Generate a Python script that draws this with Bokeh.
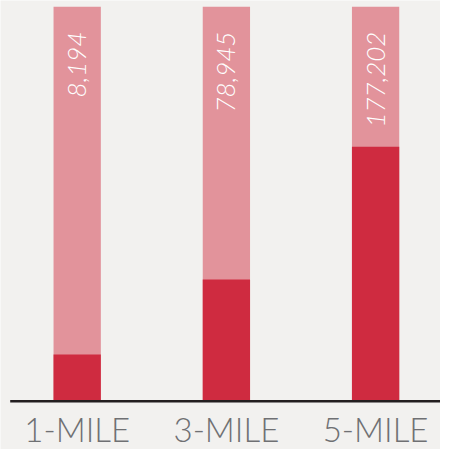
import numpy as np
from bokeh.plotting import figure
from bokeh.models import Range1d, ColumnDataSource
from bokeh.core.properties import value
from bokeh.embed import file_html
from bokeh.resources import INLINE

# ---- data ----
categories = ["1-MILE", "3-MILE", "5-MILE"]
population = [8194, 78945, 177202]
share_pct = [11.6, 30.7, 64.4]      # dark red portion (% of bar height)
full_pct = [100, 100, 100]          # pale background bar

BG = "#f2f1ef"
DARK = "#cf2b40"
PALE = "#e2939b"

xs = list(range(len(categories)))
src = ColumnDataSource(dict(
    x=xs,
    cat=categories,
    full=full_pct,
    share=share_pct,
    lab=[f"{v:,}" for v in population],
))

p = figure(width=440, height=449, output_backend="svg", toolbar_location=None,
           x_range=Range1d(-0.514, 2.435), y_range=Range1d(-12.52, 101.6),
           x_axis_location=None, y_axis_location=None,
           min_border=0, background_fill_color=BG, border_fill_color=BG,
           outline_line_color=None)
p.grid.visible = False

bw = 0.317
p.vbar(x="x", top="full", bottom=0, width=bw, source=src, fill_color=PALE, line_color=None)
p.vbar(x="x", top="share", bottom=0, width=bw, source=src, fill_color=DARK, line_color=None)

# baseline
p.segment(x0=[-0.449], y0=[-0.25], x1=[2.5], y1=[-0.25], line_color="#231f20", line_width=2.4)

# rotated value labels
p.text(x="x", y=93.7, text="lab", source=src, angle=np.pi / 2,
       text_align="right", text_baseline="middle",
       text_font=value("Lato Light"), text_font_style="italic",
       text_font_size="26px", text_color="white")

# category labels
p.text(x="x", y=-7.2, text="cat", source=src,
       text_align="center", text_baseline="middle",
       text_font=value("Lato Light"), text_font_size="33px", text_color="#6f7073")

open("out.html", "w").write(file_html(p, INLINE))
